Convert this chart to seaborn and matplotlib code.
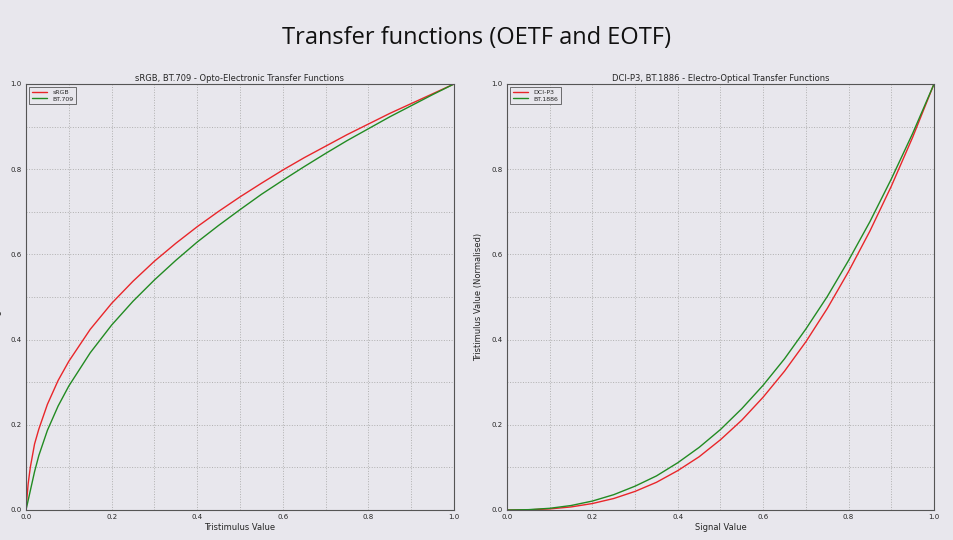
import numpy as np
import pandas as pd
import seaborn as sns
import matplotlib
matplotlib.use("Agg")
import matplotlib.pyplot as plt

x_oetf = [0, 0.002, 0.005, 0.01, 0.02, 0.03, 0.05, 0.075, 0.1, 0.15, 0.2, 0.25, 0.3, 0.35, 0.4, 0.45, 0.5, 0.55, 0.6, 0.65, 0.7, 0.75, 0.8, 0.85, 0.9, 0.95, 1.0]
srgb = [0, 0.026, 0.061, 0.0998, 0.155, 0.190, 0.248, 0.304, 0.349, 0.424, 0.485, 0.537, 0.584, 0.626, 0.665, 0.701, 0.735, 0.767, 0.798, 0.827, 0.854, 0.881, 0.906, 0.931, 0.954, 0.977, 1.0]
bt709 = [0, 0.009, 0.0225, 0.045, 0.090, 0.128, 0.187, 0.244, 0.291, 0.369, 0.434, 0.490, 0.540, 0.586, 0.629, 0.668, 0.705, 0.741, 0.774, 0.806, 0.837, 0.867, 0.895, 0.923, 0.949, 0.975, 1.0]
x_eotf = [0, 0.05, 0.1, 0.15, 0.2, 0.25, 0.3, 0.35, 0.4, 0.45, 0.5, 0.55, 0.6, 0.65, 0.7, 0.75, 0.8, 0.85, 0.9, 0.95, 1.0]
dcip3 = [0, 0.0004, 0.0025, 0.0072, 0.0152, 0.027, 0.0437, 0.065, 0.0925, 0.125, 0.165, 0.211, 0.265, 0.326, 0.395, 0.473, 0.560, 0.655, 0.760, 0.875, 1.0]
bt1886 = [0, 0.0008, 0.004, 0.0105, 0.021, 0.036, 0.056, 0.080, 0.111, 0.147, 0.189, 0.238, 0.293, 0.355, 0.425, 0.501, 0.586, 0.677, 0.777, 0.884, 1.0]
tick_vals = [0.0, 0.1, 0.2, 0.3, 0.4, 0.5, 0.6, 0.7, 0.8, 0.9, 1.0]
tick_labels = ["0.0", "", "0.2", "", "0.4", "", "0.6", "", "0.8", "", "1.0"]

bg = "#e8e7ed"
sns.set_theme(style="whitegrid")
plt.rcParams['font.family'] = ['DejaVu Sans']
fig = plt.figure(figsize=(9.54, 5.4), dpi=100, facecolor=bg)
fig.text(0.5, 0.93, "Transfer functions (OETF and EOTF)", ha="center", va="center",
         fontsize=17, family=["Open Sans", "DejaVu Sans"], color="#111111")

ax1 = fig.add_axes([26/954, 30/540, 428/954, 426/540])
ax2 = fig.add_axes([507/954, 30/540, 427/954, 426/540])

panels = [
    (ax1, x_oetf, srgb, bt709, "sRGB", "BT.709", "sRGB, BT.709 - Opto-Electronic Transfer Functions", "Tristimulus Value", "Signal Value"),
    (ax2, x_eotf, dcip3, bt1886, "DCI-P3", "BT.1886", "DCI-P3, BT.1886 - Electro-Optical Transfer Functions", "Signal Value", "Tristimulus Value (Normalised)"),
]
for ax, x, a, b, la, lb, title, xl, yl in panels:
    ax.set_facecolor(bg)
    df = pd.DataFrame({"x": x, "a": a, "b": b})
    sns.lineplot(data=df, x="x", y="a", ax=ax, color="#e8262a", lw=1, label=la)
    sns.lineplot(data=df, x="x", y="b", ax=ax, color="#228b22", lw=1, label=lb)
    ax.set_xlim(0, 1); ax.set_ylim(0, 1)
    ax.set_xticks(tick_vals)
    ax.set_yticks(tick_vals)
    ax.set_xticklabels(tick_labels)
    ax.set_yticklabels(tick_labels)
    ax.grid(True, color="#b0b0b0", ls=":", lw=0.7)
    ax.tick_params(labelsize=5, length=0, pad=3)
    for s in ax.spines.values():
        s.set_color("#555555"); s.set_linewidth(0.8)
    ax.set_title(title, fontsize=6, pad=2)
    ax.set_xlabel(xl, fontsize=6, labelpad=2)
    ax.set_ylabel(yl, fontsize=6, labelpad=6)
    leg = ax.legend(loc="upper left", fontsize=4.5, frameon=True, fancybox=False,
                    handlelength=2.5, borderpad=0.4, labelspacing=0.2)
    leg.get_frame().set_edgecolor("#333333"); leg.get_frame().set_facecolor(bg)
    leg.get_frame().set_linewidth(0.6)

fig.savefig("out.png", dpi=100, facecolor=bg)
